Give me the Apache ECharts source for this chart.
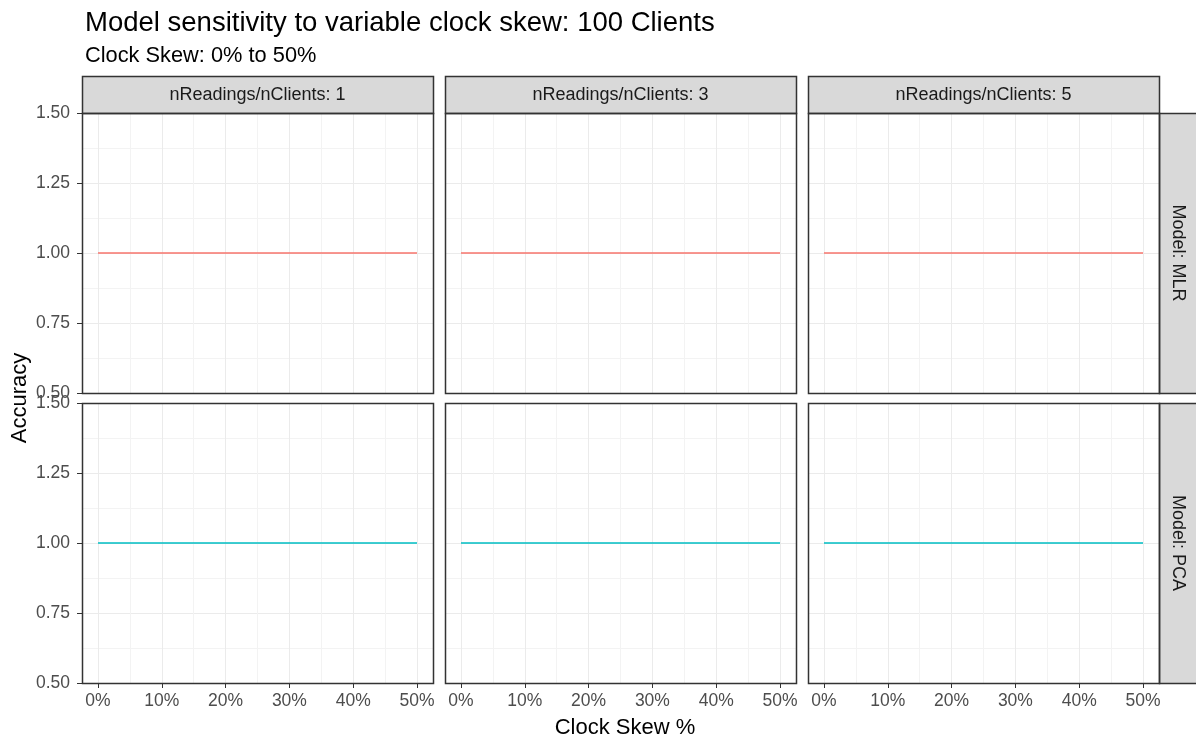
<!DOCTYPE html>
<html>
<head>
<meta charset="utf-8">
<script src="https://cdn.jsdelivr.net/npm/echarts@6/dist/echarts.min.js"></script>
<style>
  html, body { margin: 0; padding: 0; background: #fff; }
  #main { width: 1196px; height: 743px; }
</style>
</head>
<body>
<div id="main"></div>
<script>
// facet values
var readingsPerClient = [1, 3, 5];
var models = ['MLR', 'PCA'];
var modelColors = ['#F8766D', '#00BFC4'];

// x: clock skew %, y: accuracy
var clockSkew = [0, 10, 20, 30, 40, 50];
var accMLR_1 = [1, 1, 1, 1, 1, 1];
var accMLR_3 = [1, 1, 1, 1, 1, 1];
var accMLR_5 = [1, 1, 1, 1, 1, 1];
var accPCA_1 = [1, 1, 1, 1, 1, 1];
var accPCA_3 = [1, 1, 1, 1, 1, 1];
var accPCA_5 = [1, 1, 1, 1, 1, 1];
var accuracy = [[accMLR_1, accMLR_3, accMLR_5], [accPCA_1, accPCA_3, accPCA_5]];

var yTicks = [0.5, 0.75, 1.0, 1.25, 1.5];
var xTicks = [0, 10, 20, 30, 40, 50];

var FONT = "'Liberation Sans', Arial, sans-serif";
var colLeft = [82, 445, 808];
var rowTop = [113, 403];
var panelW = 351, panelH = 280;
var pad = 16; // ggplot 5% expansion on x

var myChart = echarts.init(document.getElementById('main'));

var grids = [], xAxes = [], yAxes = [], series = [], graphics = [];

// outer grids: horizontal grid lines + y axis
for (var r = 0; r < 2; r++) {
    for (var c = 0; c < 3; c++) {
        grids.push({left: colLeft[c], top: rowTop[r], width: panelW, height: panelH, show: false});
        var gi = grids.length - 1;
        xAxes.push({type: 'value', gridIndex: gi, min: 0, max: 1, show: false});
        yAxes.push({
            type: 'value', gridIndex: gi,
            min: yTicks[0], max: yTicks[yTicks.length - 1], interval: 0.25,
            axisLine: {show: false},
            axisTick: {show: c === 0, length: 5, lineStyle: {color: '#333333'}},
            axisLabel: {
                show: c === 0, margin: 12, color: '#4D4D4D', fontSize: 17.5, fontFamily: FONT,
                formatter: function (v) { return v.toFixed(2); }
            },
            splitLine: {show: true, showMinLine: false, showMaxLine: false, lineStyle: {color: '#EBEBEB', width: 1}},
            minorTick: {show: false, splitNumber: 2},
            minorSplitLine: {show: true, lineStyle: {color: '#F3F3F3', width: 1}}
        });
    }
}

// inner grids: data range 0..50 for x, vertical grid lines + x axis
for (var r = 0; r < 2; r++) {
    for (var c = 0; c < 3; c++) {
        grids.push({left: colLeft[c] + pad, top: rowTop[r], width: panelW - 2 * pad, height: panelH, show: false});
        var gi = grids.length - 1;
        xAxes.push({
            type: 'value', gridIndex: gi, min: 0, max: 50, interval: 10,
            axisLine: {show: false},
            axisTick: {show: r === 1, length: 5, lineStyle: {color: '#333333'}},
            axisLabel: {
                show: r === 1, margin: 9, color: '#4D4D4D', fontSize: 17.5, fontFamily: FONT,
                formatter: '{value}%'
            },
            splitLine: {show: true, lineStyle: {color: '#EBEBEB', width: 1}},
            minorTick: {show: false, splitNumber: 2},
            minorSplitLine: {show: true, lineStyle: {color: '#F3F3F3', width: 1}}
        });
        yAxes.push({type: 'value', gridIndex: gi, min: 0.5, max: 1.5, show: false});
        var vals = accuracy[r][c];
        series.push({
            name: 'Model: ' + models[r],
            type: 'line',
            xAxisIndex: gi, yAxisIndex: gi,
            data: clockSkew.map(function (x, i) { return [x, vals[i]]; }),
            showSymbol: false,
            silent: true,
            lineStyle: {color: modelColors[r], width: 1.4},
            z: 5
        });
    }
}

// panel borders
for (var r = 0; r < 2; r++) {
    for (var c = 0; c < 3; c++) {
        graphics.push({
            type: 'rect', z: 100,
            shape: {x: colLeft[c] + 0.5, y: rowTop[r] + 0.5, width: panelW, height: panelH},
            style: {fill: 'none', stroke: '#333333', lineWidth: 1.5}
        });
    }
}

// top strips
for (var c = 0; c < 3; c++) {
    graphics.push({
        type: 'rect', z: 90,
        shape: {x: colLeft[c] + 0.5, y: 76.5, width: panelW, height: 37},
        style: {fill: '#D9D9D9', stroke: '#333333', lineWidth: 1.5}
    });
    graphics.push({
        type: 'text', z: 95,
        x: colLeft[c] + panelW / 2, y: 95,
        style: {
            text: 'nReadings/nClients: ' + readingsPerClient[c],
            fill: '#1A1A1A', font: '18px ' + FONT,
            textAlign: 'center', textVerticalAlign: 'middle'
        }
    });
}

// right strips
for (var r = 0; r < 2; r++) {
    graphics.push({
        type: 'rect', z: 90,
        shape: {x: 1159.5, y: rowTop[r] + 0.5, width: 40, height: panelH},
        style: {fill: '#D9D9D9', stroke: '#333333', lineWidth: 1.5}
    });
    graphics.push({
        type: 'text', z: 95,
        x: 1178, y: rowTop[r] + panelH / 2,
        rotation: -Math.PI / 2,
        style: {
            text: 'Model: ' + models[r],
            fill: '#1A1A1A', font: '18px ' + FONT,
            textAlign: 'center', textVerticalAlign: 'middle'
        }
    });
}

// y axis title
graphics.push({
    type: 'text', z: 95,
    x: 20, y: 398,
    rotation: Math.PI / 2,
    style: {
        text: 'Accuracy', fill: '#000000', font: '22px ' + FONT,
        textAlign: 'center', textVerticalAlign: 'middle'
    }
});

var option = {
    backgroundColor: '#ffffff',
    animation: false,
    title: [
        {
            text: 'Model sensitivity to variable clock skew: 100 Clients',
            left: 80, top: 4,
            textStyle: {color: '#000000', fontSize: 27.5, fontWeight: 'normal', fontFamily: FONT}
        },
        {
            text: 'Clock Skew: 0% to 50%',
            left: 80, top: 40,
            textStyle: {color: '#000000', fontSize: 21.8, fontWeight: 'normal', fontFamily: FONT}
        },
        {
            text: 'Clock Skew %',
            left: 620, top: 712, textAlign: 'center',
            textStyle: {color: '#000000', fontSize: 22, fontWeight: 'normal', fontFamily: FONT}
        }
    ],
    grid: grids,
    xAxis: xAxes,
    yAxis: yAxes,
    series: series,
    graphic: graphics
};

myChart.setOption(option);
window.addEventListener('resize', function () {
    myChart.resize();
});
</script>
</body>
</html>
